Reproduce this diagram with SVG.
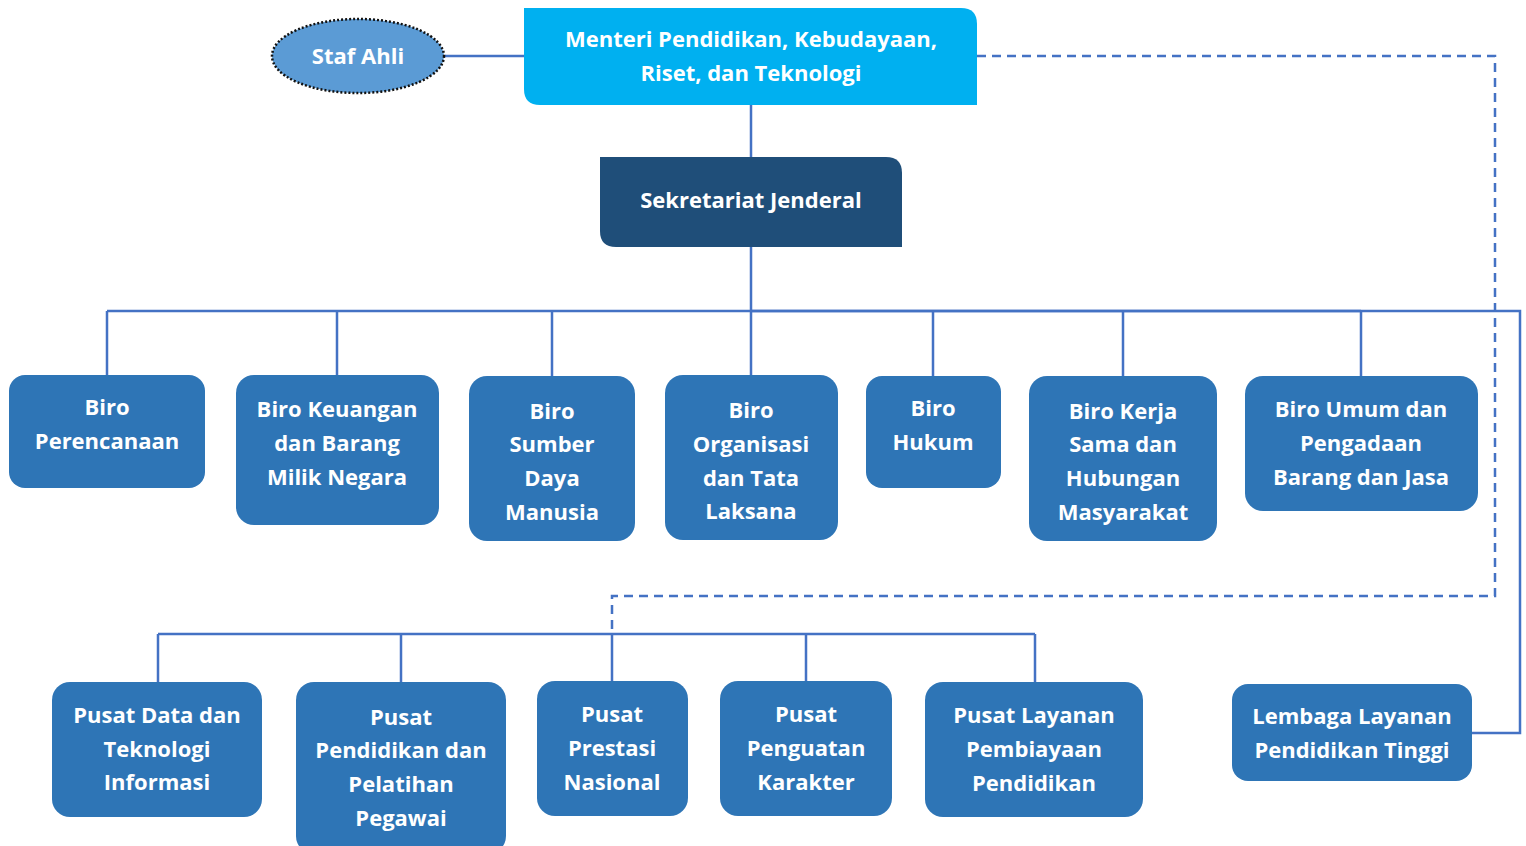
<svg xmlns="http://www.w3.org/2000/svg" width="1526" height="846" viewBox="0 0 1526 846">
<style>
.box{fill:#2E75B6;}
.t{font-family:"Open Sans","Noto Sans",sans-serif;font-weight:700;font-size:22px;fill:#fff;text-anchor:middle;}
.c{fill:none;stroke:#4472C4;stroke-width:2.5;}
.d{fill:none;stroke:#4472C4;stroke-width:2.5;stroke-dasharray:9 6;}
</style>
<rect width="1526" height="846" fill="#fff"/>
<g id="connectors">
<path class="c" d="M445 56 H524"/>
<path class="c" d="M751 105 V157 M751 247 V311 M107 311 H1361 M107 311 V375 M337 311 V375 M552 311 V376 M751 311 V375 M933 311 V376 M1123 311 V376 M1361 311 V376"/>
<path class="c" d="M751 311 H1520 V733 H1472"/>
<path class="c" d="M158 634 H1035 M158 634 V682 M401 634 V682 M612 634 V681 M806 634 V681 M1035 634 V682"/>
<path class="d" d="M977 56 H1495 V596 H612 V634"/>
</g>
<g id="staf-ahli">
<ellipse cx="358" cy="56" rx="86" ry="37" fill="#5B9BD5" stroke="#111" stroke-width="2.5" stroke-dasharray="2 2"/>
<text class="t" x="358" y="64">Staf Ahli</text>
</g>
<g id="menteri">
<path d="M524 8 H961 Q977 8 977 24 V105 H540 Q524 105 524 89 Z" fill="#00B0F0"/>
<text class="t" x="751" y="47">Menteri Pendidikan, Kebudayaan,</text>
<text class="t" x="751" y="81">Riset, dan Teknologi</text>
</g>
<g id="sekjen">
<path d="M600 157 H886 Q902 157 902 173 V247 H616 Q600 247 600 231 Z" fill="#1F4E79"/>
<text class="t" x="751" y="208">Sekretariat Jenderal</text>
</g>
<g id="biro-perencanaan">
<rect class="box" x="9" y="375" width="196" height="113" rx="16"/>
<text class="t" x="107" y="415">Biro</text>
<text class="t" x="107" y="449">Perencanaan</text>
</g>
<g id="biro-keuangan">
<rect class="box" x="236" y="375" width="203" height="150" rx="18"/>
<text class="t" x="337" y="417">Biro Keuangan</text>
<text class="t" x="337" y="451">dan Barang</text>
<text class="t" x="337" y="485">Milik Negara</text>
</g>
<g id="biro-sdm">
<rect class="box" x="469" y="376" width="166" height="165" rx="18"/>
<text class="t" x="552" y="419">Biro</text>
<text class="t" x="552" y="452">Sumber</text>
<text class="t" x="552" y="486">Daya</text>
<text class="t" x="552" y="520">Manusia</text>
</g>
<g id="biro-organisasi">
<rect class="box" x="665" y="375" width="173" height="165" rx="18"/>
<text class="t" x="751" y="418">Biro</text>
<text class="t" x="751" y="452">Organisasi</text>
<text class="t" x="751" y="486">dan Tata</text>
<text class="t" x="751" y="519">Laksana</text>
</g>
<g id="biro-hukum">
<rect class="box" x="866" y="376" width="135" height="112" rx="16"/>
<text class="t" x="933" y="416">Biro</text>
<text class="t" x="933" y="450">Hukum</text>
</g>
<g id="biro-kerja-sama">
<rect class="box" x="1029" y="376" width="188" height="165" rx="18"/>
<text class="t" x="1123" y="419">Biro Kerja</text>
<text class="t" x="1123" y="452">Sama dan</text>
<text class="t" x="1123" y="486">Hubungan</text>
<text class="t" x="1123" y="520">Masyarakat</text>
</g>
<g id="biro-umum">
<rect class="box" x="1245" y="376" width="233" height="135" rx="18"/>
<text class="t" x="1361" y="417">Biro Umum dan</text>
<text class="t" x="1361" y="451">Pengadaan</text>
<text class="t" x="1361" y="485">Barang dan Jasa</text>
</g>
<g id="pusat-data">
<rect class="box" x="52" y="682" width="210" height="135" rx="18"/>
<text class="t" x="157" y="723">Pusat Data dan</text>
<text class="t" x="157" y="757">Teknologi</text>
<text class="t" x="157" y="790">Informasi</text>
</g>
<g id="pusat-pendidikan">
<rect class="box" x="296" y="682" width="210" height="172" rx="18"/>
<text class="t" x="401" y="725">Pusat</text>
<text class="t" x="401" y="758">Pendidikan dan</text>
<text class="t" x="401" y="792">Pelatihan</text>
<text class="t" x="401" y="826">Pegawai</text>
</g>
<g id="pusat-prestasi">
<rect class="box" x="537" y="681" width="151" height="135" rx="18"/>
<text class="t" x="612" y="722">Pusat</text>
<text class="t" x="612" y="756">Prestasi</text>
<text class="t" x="612" y="790">Nasional</text>
</g>
<g id="pusat-penguatan">
<rect class="box" x="720" y="681" width="172" height="135" rx="18"/>
<text class="t" x="806" y="722">Pusat</text>
<text class="t" x="806" y="756">Penguatan</text>
<text class="t" x="806" y="790">Karakter</text>
</g>
<g id="pusat-layanan">
<rect class="box" x="925" y="682" width="218" height="135" rx="18"/>
<text class="t" x="1034" y="723">Pusat Layanan</text>
<text class="t" x="1034" y="757">Pembiayaan</text>
<text class="t" x="1034" y="791">Pendidikan</text>
</g>
<g id="lembaga">
<rect class="box" x="1232" y="684" width="240" height="97" rx="16"/>
<text class="t" x="1352" y="724">Lembaga Layanan</text>
<text class="t" x="1352" y="758">Pendidikan Tinggi</text>
</g>
</svg>
